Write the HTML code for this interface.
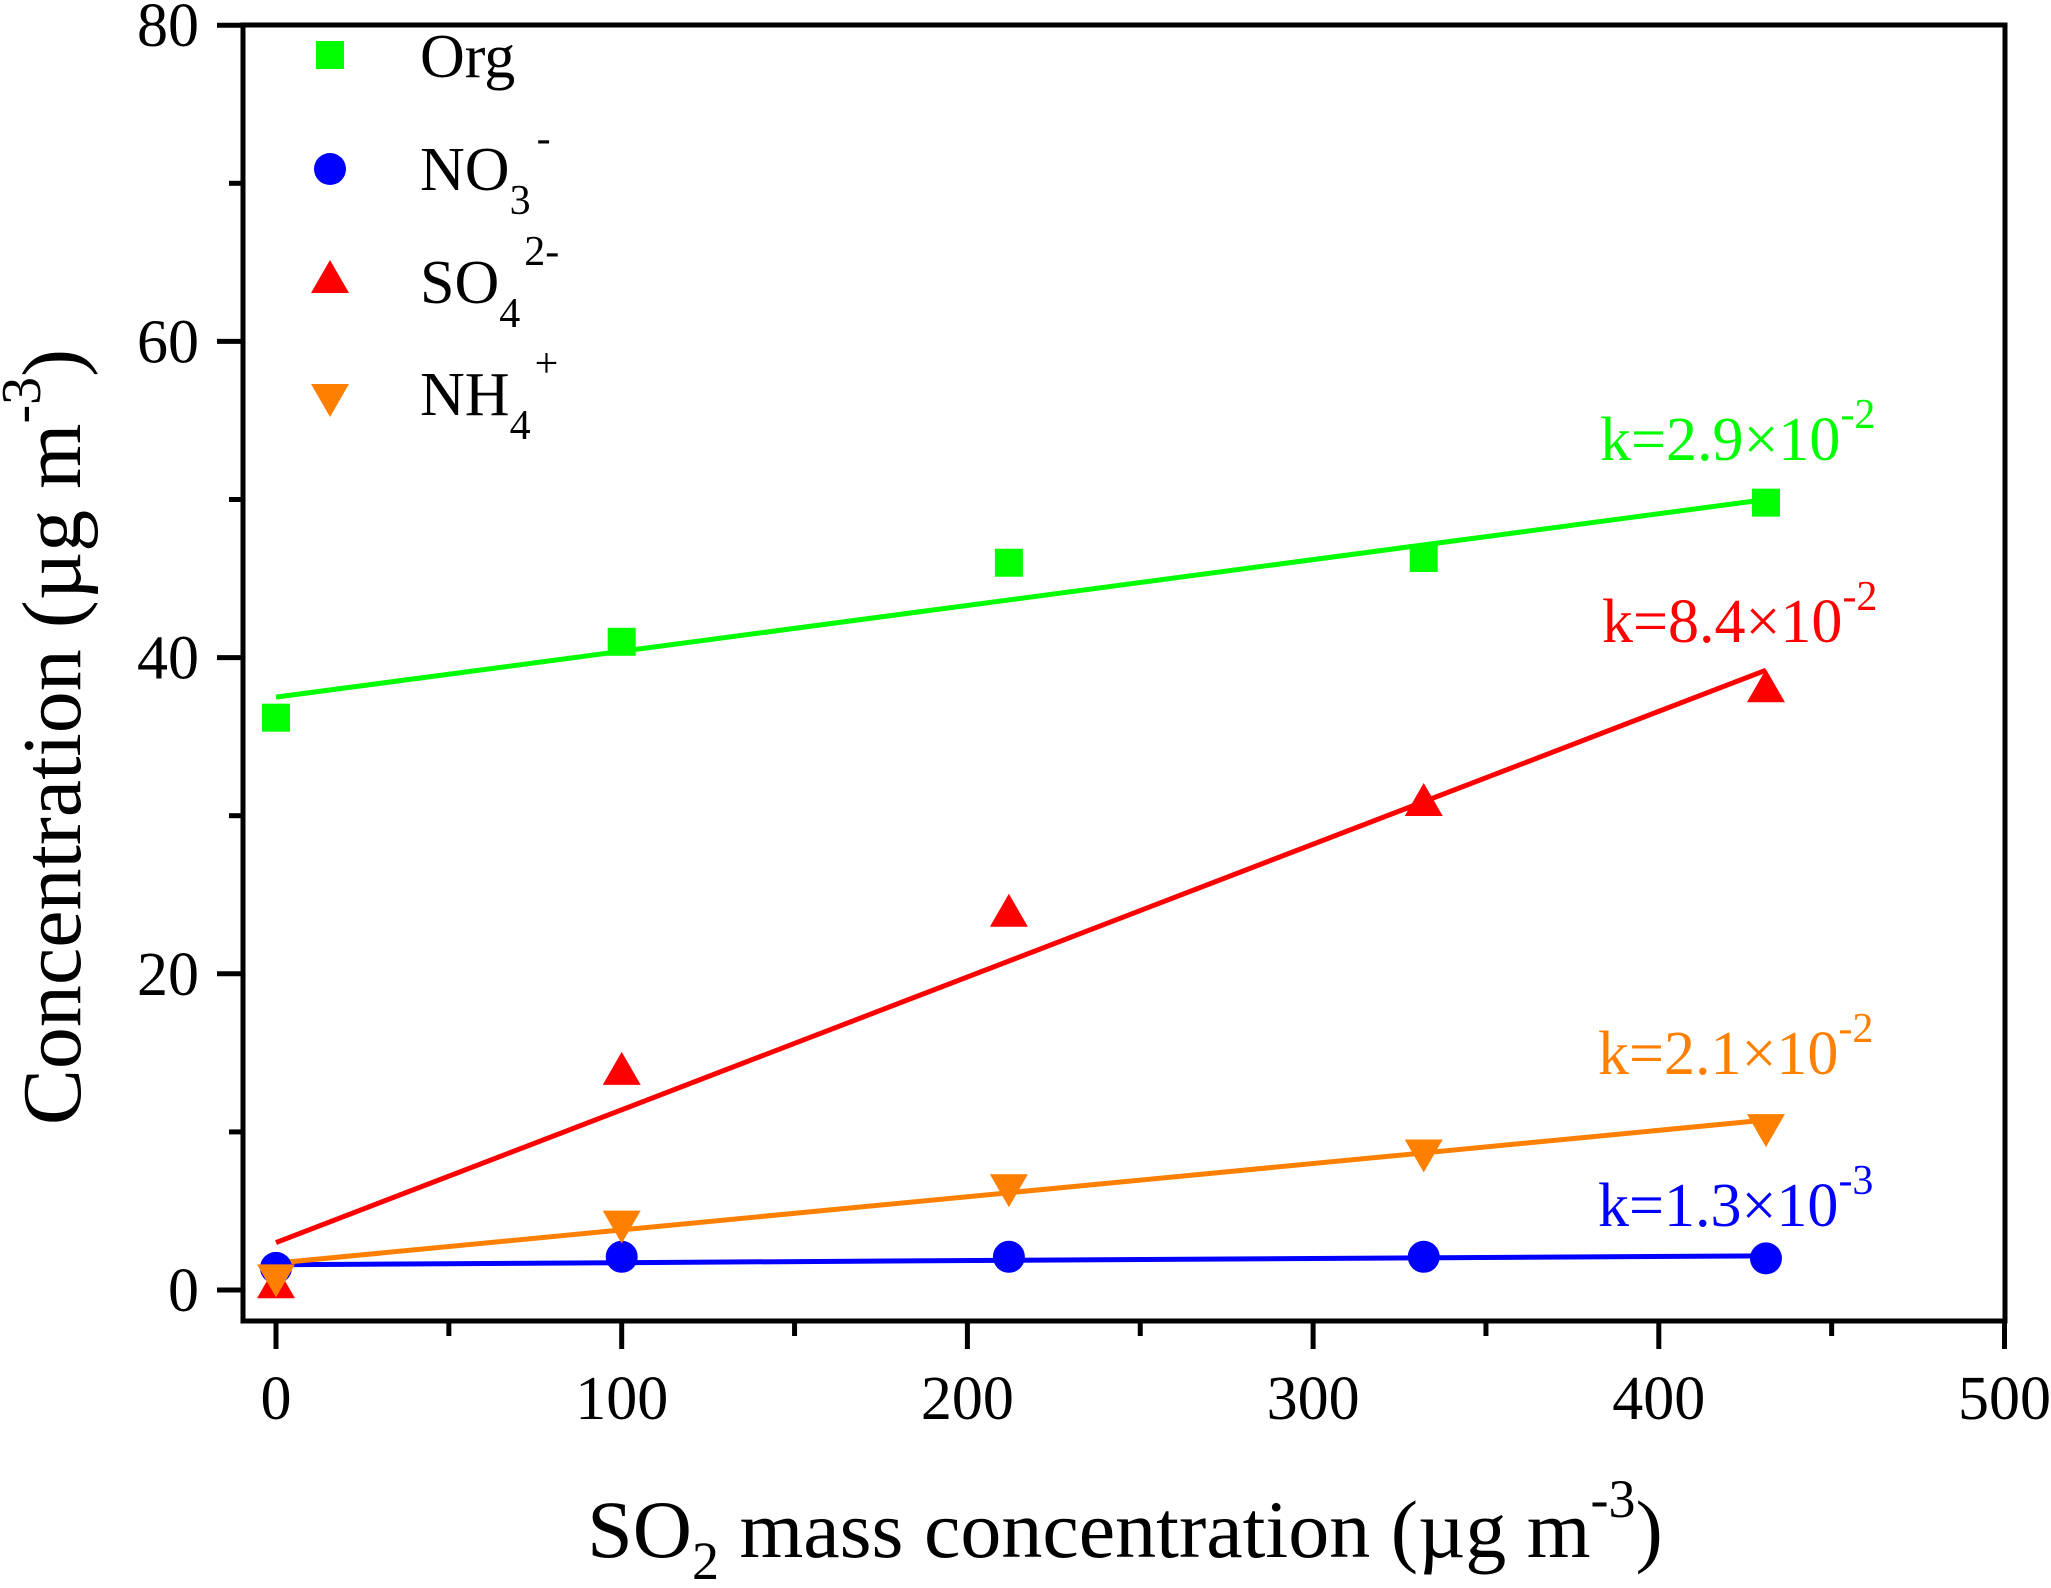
<!DOCTYPE html>
<html><head><meta charset="utf-8"><style>
html,body{margin:0;padding:0;background:#fff;}
svg{display:block;font-family:"Liberation Serif",serif;}
</style></head><body>
<svg id="chart" width="2051" height="1588" viewBox="0 0 2051 1588">
<g id="axes"></g>
<g id="series"></g>
<g id="legend">
 <rect x="316" y="41" width="28" height="28" fill="#00ff00"/>
 <text x="420" y="77" font-size="62">Org</text>
 <circle cx="330" cy="169" r="16" fill="#0000ff"/>
 <text x="420" y="190" font-size="62">NO<tspan font-size="42" dy="24">3</tspan><tspan font-size="42" dy="-62" dx="6">-</tspan></text>
 <polygon points="330,260 349,293 311,293" fill="#ff0000"/>
 <text x="420" y="303" font-size="62">SO<tspan font-size="42" dy="24">4</tspan><tspan font-size="42" dy="-62" dx="4">2-</tspan></text>
 <polygon points="311,384 349,384 330,417" fill="#ff8000"/>
 <text x="420" y="415" font-size="62">NH<tspan font-size="42" dy="24">4</tspan><tspan font-size="42" dy="-62" dx="4">+</tspan></text>
</g>
<g id="annot">
 <text x="1600" y="460" font-size="62" fill="#00ff00">k=2.9×10<tspan font-size="42" dy="-32">-2</tspan></text>
 <text x="1602" y="642" font-size="62" fill="#ff0000">k=8.4×10<tspan font-size="42" dy="-32">-2</tspan></text>
 <text x="1598" y="1074" font-size="62" fill="#ff8000">k=2.1×10<tspan font-size="42" dy="-32">-2</tspan></text>
 <text x="1598" y="1226" font-size="62" fill="#0000ff">k=1.3×10<tspan font-size="42" dy="-32">-3</tspan></text>
</g>
<text x="1125" y="1557" font-size="82" text-anchor="middle">SO<tspan font-size="54" dy="22">2</tspan><tspan dy="-22"> mass concentration  (µg m</tspan><tspan font-size="54" dy="-40">-3</tspan><tspan dy="40">)</tspan></text>
<text transform="translate(80,737) rotate(-90)" font-size="84" text-anchor="middle">Concentration (µg m<tspan font-size="56" dy="-40">-3</tspan><tspan dy="40">)</tspan></text>
</svg>
<script>
const xValues = [0, 100, 212, 332, 431];
const orgValues = [36.2, 41.0, 46.0, 46.3, 49.8];
const no3Values = [1.4, 2.1, 2.1, 2.1, 2.0];
const so4Values = [0.3, 13.8, 23.8, 30.8, 38.0];
const nh4Values = [0.8, 4.2, 6.5, 8.7, 10.3];
const fitIntercepts = [37.5, 1.6, 3.0, 1.7];
const fitSlopes = [0.029, 0.0013, 0.084, 0.021];
const xTicks = [0, 100, 200, 300, 400, 500];
const yTicks = [0, 20, 40, 60, 80];

const NS = "http://www.w3.org/2000/svg";
const X0 = 276, XPER = 3.457, Y0 = 1290, YPER = 15.81;
const L = 243, R = 2005, T = 25, B = 1321;
function sx(v){return X0 + v*XPER;}
function sy(v){return Y0 - v*YPER;}
function mk(tag, attrs, parent){const e=document.createElementNS(NS,tag);for(const k in attrs)e.setAttribute(k,attrs[k]);parent.appendChild(e);return e;}
const axes = document.getElementById('axes');
const series = document.getElementById('series');

const frame = mk('rect',{x:L,y:T,width:R-L,height:B-T,fill:'none',stroke:'#000','stroke-width':5},axes);



xTicks.forEach(v=>{
  const t = mk('line',{x1:sx(v),x2:sx(v),y1:B,y2:B+28,stroke:'#000','stroke-width':5},axes);
  
  
  const lb = mk('text',{x:sx(v),y:B+98,'font-size':62,'text-anchor':'middle'},axes);
  lb.textContent = v;
  
  
  if (v < 500) {
    const m = mk('line',{x1:sx(v+50),x2:sx(v+50),y1:B,y2:B+15,stroke:'#000','stroke-width':5},axes);
    
    
  }
});
yTicks.forEach(v=>{
  const t = mk('line',{x1:L-26,x2:L,y1:sy(v),y2:sy(v),stroke:'#000','stroke-width':5},axes);
  
  
  const lb = mk('text',{x:L-44,y:sy(v)+21,'font-size':62,'text-anchor':'end'},axes);
  lb.textContent = v;
  
  
  if (v < 80) {
    const m = mk('line',{x1:L-14,x2:L,y1:sy(v+10),y2:sy(v+10),stroke:'#000','stroke-width':5},axes);
    
    
  }
});

const colors = ['#00ff00','#0000ff','#ff0000','#ff8000'];
const names = ['org','no3','so4','nh4'];
const data = [orgValues, no3Values, so4Values, nh4Values];
for (let i=0;i<4;i++){
  const xa = xValues[0], xb = xValues[xValues.length-1];
  const ln = mk('line',{x1:sx(xa),y1:sy(fitIntercepts[i]+fitSlopes[i]*xa),x2:sx(xb),y2:sy(fitIntercepts[i]+fitSlopes[i]*xb),stroke:colors[i],'stroke-width':5},series);
  
  
}
[2,1,3,0].forEach(i=>{
  data[i].forEach((v,j)=>{
    const cx = sx(xValues[j]), cy = sy(v);
    let e;
    if (i===0) e = mk('rect',{x:cx-14,y:cy-14,width:28,height:28,fill:colors[i]},series);
    else if (i===1) e = mk('circle',{cx:cx,cy:cy,r:16,fill:colors[i]},series);
    else if (i===2) e = mk('polygon',{points:`${cx},${cy-20} ${cx+19},${cy+13} ${cx-19},${cy+13}`,fill:colors[i]},series);
    else e = mk('polygon',{points:`${cx-19},${cy-13} ${cx+19},${cy-13} ${cx},${cy+20}`,fill:colors[i]},series);
    
    
  });
});
</script>
</body></html>
